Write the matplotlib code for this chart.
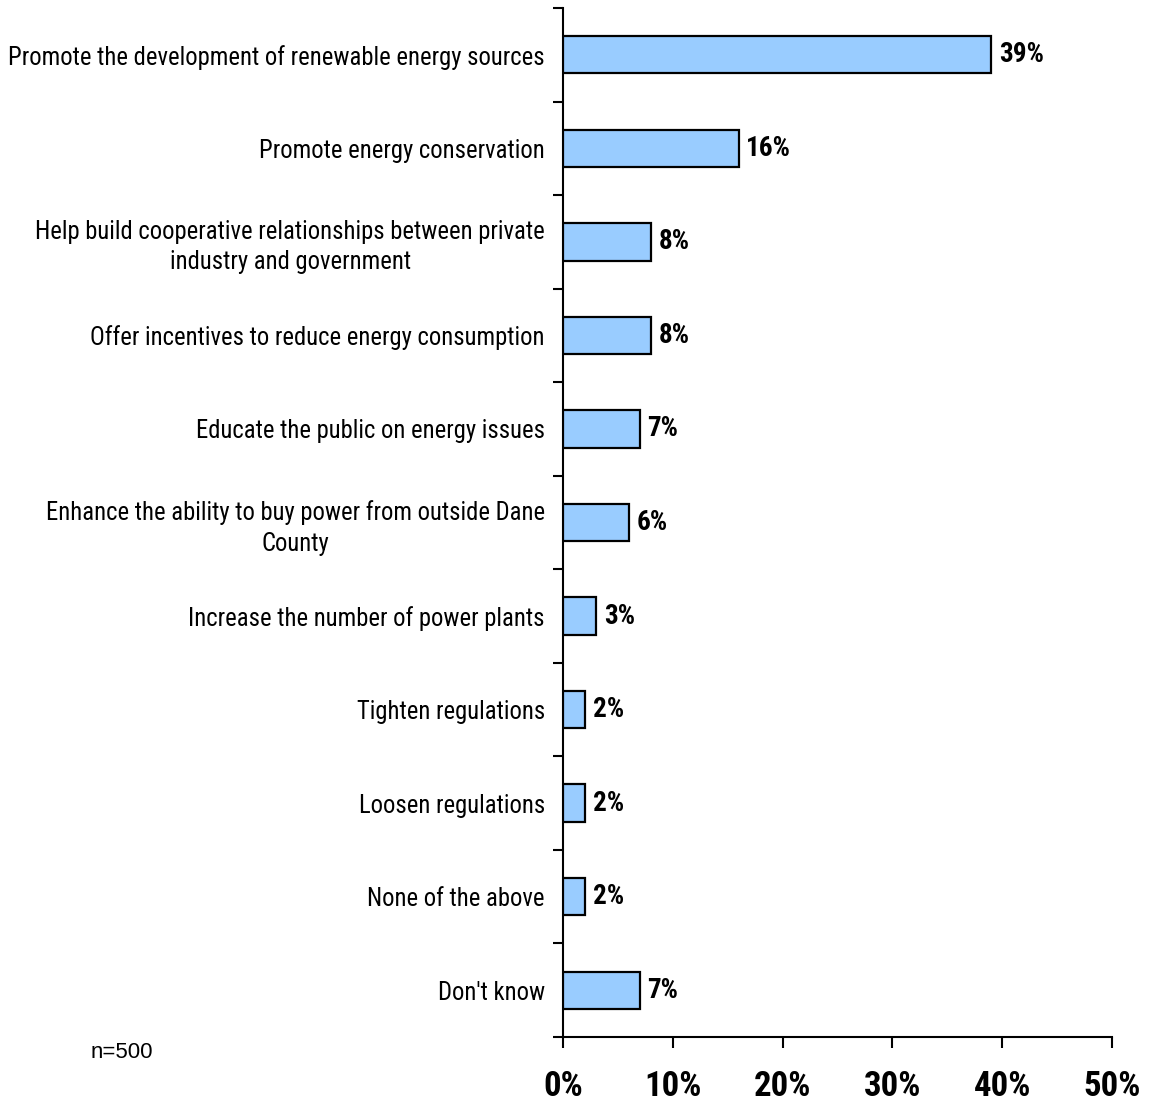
import matplotlib
matplotlib.use("Agg")
import matplotlib.pyplot as plt
from matplotlib.ticker import FixedLocator, NullFormatter
import logging
logging.getLogger("matplotlib.font_manager").setLevel(logging.ERROR)

categories = [
    "Promote the development of renewable energy sources",
    "Promote energy conservation",
    "Help build cooperative relationships between private\nindustry and government",
    "Offer incentives to reduce energy consumption",
    "Educate the public on energy issues",
    "Enhance the ability to buy power from outside Dane\nCounty",
    "Increase the number of power plants",
    "Tighten regulations",
    "Loosen regulations",
    "None of the above",
    "Don't know",
]
values = [39, 16, 8, 8, 7, 6, 3, 2, 2, 2, 7]
xticks = [0, 10, 20, 30, 40, 50]
xtick_labels = ["0%", "10%", "20%", "30%", "40%", "50%"]

NARROW = ["Roboto Condensed", "IBM Plex Sans Condensed", "DejaVu Sans"]

fig = plt.figure(figsize=(11.52, 11.05), dpi=100)
ax = fig.add_axes([563/1152, 1 - 1037/1105, (1112-563)/1152, (1037-8)/1105])

n = len(categories)
ypos = list(range(n))
ax.barh(ypos, values, height=0.4, color="#99CCFF", edgecolor="black", linewidth=1.6, zorder=3)
ax.set_ylim(n - 0.5, -0.5)
ax.set_xlim(0, 50)

for y, v in zip(ypos, values):
    ax.text(v + 0.7, y, f"{v}%", va="center", ha="left", fontsize=19.5,
            fontweight="bold", family=NARROW)

ax.set_yticks(ypos)
ax.set_yticklabels(categories, family=NARROW, fontsize=17.7, multialignment="center",
                   linespacing=1.32)
ax.tick_params(axis="y", which="major", length=0, pad=13)
ax.yaxis.set_minor_locator(FixedLocator([i - 0.5 for i in range(n + 1)]))
ax.yaxis.set_minor_formatter(NullFormatter())
ax.tick_params(axis="y", which="minor", length=7, width=1.5, direction="out")

ax.set_xticks(xticks)
ax.set_xticklabels(xtick_labels, family=NARROW, fontsize=25, fontweight="bold")
ax.tick_params(axis="x", length=8, width=1.5, direction="out", pad=16)

for s in ["top", "right"]:
    ax.spines[s].set_visible(False)
for s in ["left", "bottom"]:
    ax.spines[s].set_linewidth(1.5)

fig.text(122/1152, 1 - 1052/1105, "n=500", ha="center", va="center", fontsize=16,
         family=["Liberation Sans", "DejaVu Sans"])

fig.savefig("out.png", dpi=100)
